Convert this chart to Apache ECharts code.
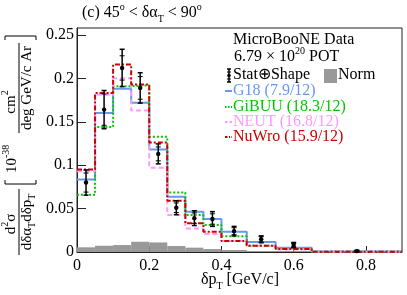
<!DOCTYPE html>
<html><head><meta charset="utf-8">
<script src="https://cdn.jsdelivr.net/npm/echarts@6/dist/echarts.min.js"></script>
<style>html,body{margin:0;padding:0;background:#fff}#c{width:407px;height:295px}</style>
</head><body><div id="c"></div>
<script>
// ---- data ----
const binEdges = [0, 0.05, 0.1, 0.15, 0.2, 0.25, 0.3, 0.35, 0.4, 0.47, 0.55, 0.65, 0.9];
const dataVal  = [0.080, 0.164, 0.212, 0.189, 0.113, 0.051, 0.039, 0.038, 0.024, 0.0146, 0.008, 0.001];
const errTot   = [0.0145, 0.022, 0.0215, 0.0175, 0.0115, 0.008, 0.0085, 0.0085, 0.0055, 0.004, 0.003, 0.001];
const errStat  = [0.011, 0.018, 0.014, 0.013, 0.008, 0.0055, 0.006, 0.006, 0.004, 0.003, 0.002, 0.0007];
const g18      = [0.0835, 0.160, 0.188, 0.172, 0.118, 0.0636, 0.0463, 0.038, 0.0234, 0.0115, 0.005, 0.0005];
const gibuu    = [0.066, 0.144, 0.191, 0.192, 0.1326, 0.0686, 0.0425, 0.031, 0.018, 0.0073, 0.0034, 0.0003];
const neut     = [0.093, 0.181, 0.200, 0.163, 0.097, 0.0425, 0.027, 0.0207, 0.0126, 0.0073, 0.003, 0.0003];
const nuwro    = [0.095, 0.183, 0.216, 0.193, 0.126, 0.059, 0.033, 0.0234, 0.0126, 0.0073, 0.0034, 0.0003];
const normUnc  = [0.0054, 0.0072, 0.008, 0.0118, 0.011, 0.0069, 0.005, 0.0034, 0.0023, 0.0012, 0.001, 0.0005];
const xTicks = [0, 0.2, 0.4, 0.6, 0.8];
const yTicks = [0, 0.05, 0.1, 0.15, 0.2, 0.25];
const legendNames = ['G18 (7.9/12)', 'GiBUU (18.3/12)', 'NEUT (16.8/12)', 'NuWro (15.9/12)'];

const F = '"Liberation Serif", "Times New Roman", serif';
const C_BLUE = '#6699ee', C_GREEN = '#00c800', C_PINK = '#ff99ff', C_RED = '#cc0000', C_GRAY = '#999999';

function steps(v) {
  const p = [];
  for (let i = 0; i < v.length; i++) { p.push([binEdges[i], v[i]]); p.push([binEdges[i + 1], v[i]]); }
  return p;
}
const normData = normUnc.map((v, i) => [binEdges[i], binEdges[i + 1], v]);
const ptData = dataVal.map((v, i) => [(binEdges[i] + binEdges[i + 1]) / 2, v, errTot[i], errStat[i]]);

const chart = echarts.init(document.getElementById('c'), null, {renderer: 'canvas'});

const sup = {fontSize: 10, verticalAlign: 'top', fontFamily: F};
const sub = {fontSize: 10, verticalAlign: 'bottom', fontFamily: F};
function T(x, y, text, size, color, align, extra) {
  return Object.assign({type: 'text', x: x, y: y, style: {text: text, fontSize: size, fontFamily: F, fill: color || '#000',
    align: align || 'left', verticalAlign: 'middle', lineHeight: size + 6, rich: {s: Object.assign({}, sup, {lineHeight: size + 6}), b: Object.assign({}, sub, {lineHeight: size + 6})}}}, extra || {});
}
function L(x1, y1, x2, y2, color, w, dash) {
  return {type: 'line', shape: {x1, y1, x2, y2}, style: {stroke: color, lineWidth: w, lineDash: dash || null}};
}

// rotated y-axis title (local x = along reading direction)
const yTitle = {
  type: 'group', x: 0, y: 255, rotation: Math.PI / 2,
  children: [
    T(31, 11, 'd{s|2}σ', 15, '#000', 'center'),
    L(0, 19, 66, 19, '#000', 1),
    T(33, 27, 'dδα{b|T}dδp{b|T}', 15, '#000', 'center'),
    {type: 'polyline', shape: {points: [[75, 5], [71, 5], [71, 36], [75, 36]]}, style: {stroke: '#000', lineWidth: 1, fill: null}},
    T(82, 12, '10{s|-38}', 15, '#000', 'left'),
    T(153, 11, 'cm{s|2}', 15, '#000', 'center'),
    L(122, 19, 212, 19, '#000', 1),
    T(167, 27, 'deg GeV/c Ar', 15, '#000', 'center'),
    {type: 'polyline', shape: {points: [[215, 5], [219, 5], [219, 36], [215, 36]]}, style: {stroke: '#000', lineWidth: 1, fill: null}}
  ]
};

const legendY = [40, 57, 75, 91, 107, 122, 137];
const graphics = [
  T(82, 13, '(c) 45{s|o} < δα{b|T} < 90{s|o}', 16, '#000', 'left'),
  yTitle,
  T(240, 280, 'δp{b|T} [GeV/c]', 16, '#000', 'center'),
  T(233, legendY[0], 'MicroBooNE Data', 16),
  T(234, legendY[1], '6.79 × 10{s|20} POT', 16),
  // error-bar icon
  L(229, 69, 229, 82, '#000', 1.5), L(227, 69, 231, 69, '#000', 1.5), L(227, 82, 231, 82, '#000', 1.5),
  L(227, 72, 231, 72, '#000', 1), L(227, 79, 231, 79, '#000', 1),
  {type: 'circle', shape: {cx: 229, cy: 75.5, r: 1.8}, style: {fill: '#000'}},
  T(233, legendY[2], 'Stat⊕Shape', 16),
  {type: 'rect', shape: {x: 324, y: 69, width: 13, height: 14}, style: {fill: C_GRAY}},
  T(338, legendY[2], 'Norm', 16),
  L(225, legendY[3], 232, legendY[3], C_BLUE, 2),
  T(233, legendY[3], legendNames[0], 16, C_BLUE),
  L(225, legendY[4], 232, legendY[4], C_GREEN, 2, [1.5, 1.5]),
  T(233, legendY[4], legendNames[1], 16, C_GREEN),
  L(225, legendY[5], 232, legendY[5], C_PINK, 2, [2.5, 2]),
  T(233, legendY[5], legendNames[2], 16, C_PINK),
  L(225, legendY[6], 232, legendY[6], C_RED, 2, [2.5, 1.5, 1, 1.5]),
  T(233, legendY[6], legendNames[3], 16, C_RED)
];

const option = {
  animation: false,
  backgroundColor: '#fff',
  grid: {left: 77, right: 5, top: 28, bottom: 43, show: true, borderColor: '#222', borderWidth: 1, backgroundColor: 'transparent'},
  xAxis: {
    type: 'value', min: 0, max: 0.9, interval: 0.2,
    axisLine: {show: true, lineStyle: {color: '#222', width: 1}},
    axisTick: {show: true, inside: true, length: 6, lineStyle: {color: '#222'}},
    axisLabel: {fontSize: 16, fontFamily: F, color: '#000', margin: 6, showMaxLabel: false,
      formatter: v => xTicks.some(t => Math.abs(t - v) < 1e-9) ? String(+v.toFixed(2)) : ''},
    splitLine: {show: false}
  },
  yAxis: {
    type: 'value', min: 0, max: 0.258, interval: 0.05,
    axisLine: {show: true, lineStyle: {color: '#222', width: 1}},
    axisTick: {show: true, inside: true, length: 9, lineStyle: {color: '#222'}},
    axisLabel: {fontSize: 16, fontFamily: F, color: '#000', margin: 3, showMaxLabel: false,
      formatter: v => yTicks.some(t => Math.abs(t - v) < 1e-9) ? String(+v.toFixed(2)) : ''},
    splitLine: {show: false}
  },
  series: [
    {type: 'custom', name: 'Norm', data: normData, z: 1,
      renderItem: (params, api) => {
        const a = api.coord([api.value(0), 0]);
        const b = api.coord([api.value(1), api.value(2)]);
        return {type: 'rect', shape: {x: a[0], y: b[1], width: b[0] - a[0], height: a[1] - b[1]}, style: {fill: C_GRAY}};
      }},
    {type: 'line', name: 'G18', data: steps(g18), symbol: 'none', z: 2, lineStyle: {color: C_BLUE, width: 2}},
    {type: 'line', name: 'GiBUU', data: steps(gibuu), symbol: 'none', z: 3, lineStyle: {color: C_GREEN, width: 2, type: [2, 2]}},
    {type: 'line', name: 'NEUT', data: steps(neut), symbol: 'none', z: 4, lineStyle: {color: C_PINK, width: 2, type: [5, 3]}},
    {type: 'line', name: 'NuWro', data: steps(nuwro), symbol: 'none', z: 5, lineStyle: {color: C_RED, width: 2, type: [5, 2, 2, 2]}},
    {type: 'custom', name: 'Data', data: ptData, z: 10,
      renderItem: (params, api) => {
        const x = api.value(0), v = api.value(1), et = api.value(2), es = api.value(3);
        const p = api.coord([x, v]), t = api.coord([x, v + et]), b = api.coord([x, v - et]);
        const st = api.coord([x, v + es]), sb = api.coord([x, v - es]);
        const s = {stroke: '#000', lineWidth: 1.5};
        const h = 2.5;
        return {type: 'group', children: [
          {type: 'line', shape: {x1: p[0], y1: t[1], x2: p[0], y2: b[1]}, style: s},
          {type: 'line', shape: {x1: p[0] - h, y1: t[1], x2: p[0] + h, y2: t[1]}, style: s},
          {type: 'line', shape: {x1: p[0] - h, y1: b[1], x2: p[0] + h, y2: b[1]}, style: s},
          {type: 'line', shape: {x1: p[0] - h, y1: st[1], x2: p[0] + h, y2: st[1]}, style: {stroke: '#000', lineWidth: 1}},
          {type: 'line', shape: {x1: p[0] - h, y1: sb[1], x2: p[0] + h, y2: sb[1]}, style: {stroke: '#000', lineWidth: 1}},
          {type: 'circle', shape: {cx: p[0], cy: p[1], r: 2.2}, style: {fill: '#000'}}
        ]};
      }}
  ],
  graphic: graphics
};
chart.setOption(option);
</script></body></html>
